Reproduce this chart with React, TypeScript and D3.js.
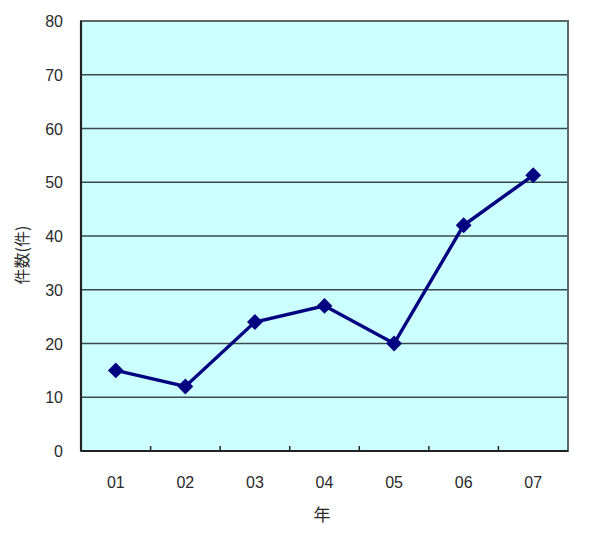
import React from "react";
import * as d3 from "d3";

const categories = ["01", "02", "03", "04", "05", "06", "07"];
const values = [15, 12, 24, 27, 20, 42, 51.3];
const yTicks = [0, 10, 20, 30, 40, 50, 60, 70, 80];

export default function App() {
  const W = 600, H = 534;
  const L = 81, R = 568, T = 21, B = 451;
  const x = d3.scaleBand<string>().domain(categories).range([L, R]);
  const y = d3.scaleLinear().domain([0, 80]).range([B, T]);
  const line = d3
    .line<number>()
    .x((_, i) => x(categories[i])! + x.bandwidth() / 2)
    .y((d) => y(d));
  const diamond = d3.symbol().type(d3.symbolSquare).size(125)();
  const font = "'Liberation Sans', Arial, sans-serif";
  return (
    <svg width={W} height={H} style={{ position: "absolute", left: 0, top: 0, background: "#fff" }}>
      <rect x={L} y={T} width={R - L} height={B - T} fill="#ccffff" />
      {yTicks.slice(1, -1).map((t) => (
        <line key={t} x1={L} x2={R} y1={y(t)} y2={y(t)} stroke="#3a4a4a" strokeWidth={1.6} />
      ))}
      <rect x={L} y={T} width={R - L} height={B - T} fill="none" stroke="#5a6868" strokeWidth={2} />
      <line x1={L} x2={L} y1={T} y2={B} stroke="#222" strokeWidth={2.2} />
      <line x1={L} x2={R} y1={B} y2={B} stroke="#222" strokeWidth={2.2} />
      {categories.slice(1).map((c) => (
        <line key={c} x1={x(c)!} x2={x(c)!} y1={B} y2={B - 5} stroke="#222" strokeWidth={1.5} />
      ))}
      {yTicks.map((t) => (
        <text key={t} x={63} y={y(t) + 6} textAnchor="end" fontSize={16} fontFamily={font} fill="#2a2a2a">
          {t}
        </text>
      ))}
      {categories.map((c) => (
        <text key={c} x={x(c)! + x.bandwidth() / 2} y={488} textAnchor="middle" fontSize={16} fontFamily={font} fill="#2a2a2a">
          {c}
        </text>
      ))}
      <path d={line(values)!} fill="none" stroke="#000080" strokeWidth={3.4} />
      {values.map((v, i) => (
        <path
          key={i}
          d={diamond!}
          transform={`translate(${x(categories[i])! + x.bandwidth() / 2},${y(v)}) rotate(45)`}
          fill="#000080"
        />
      ))}
      <text
        transform="translate(28,255) rotate(-90)"
        textAnchor="middle"
        fontSize={16}
        fontFamily="'Noto Sans CJK JP', sans-serif"
        fill="#2a2a2a"
      >
        件数(件)
      </text>
      <text x={322} y={521} textAnchor="middle" fontSize={17} fontFamily="'Noto Sans CJK JP', sans-serif" fill="#2a2a2a">
        年
      </text>
    </svg>
  );
}
